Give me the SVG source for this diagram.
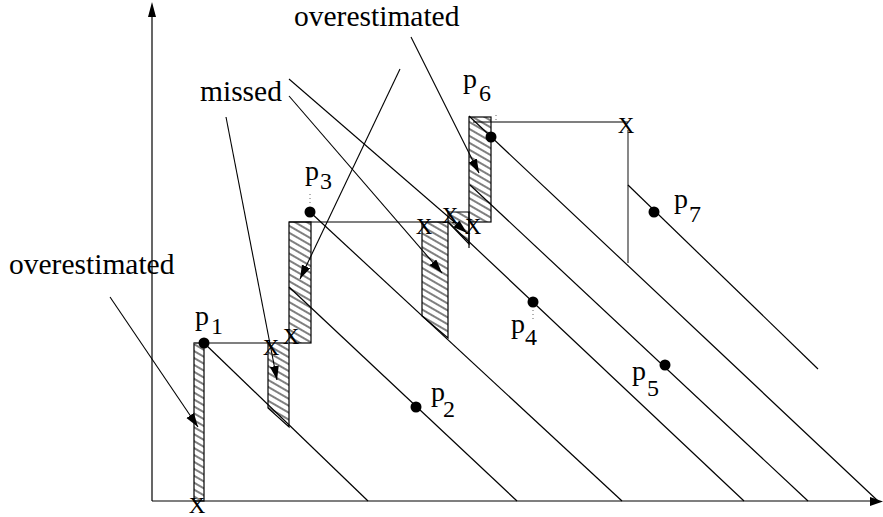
<svg xmlns="http://www.w3.org/2000/svg" width="883" height="517" viewBox="0 0 883 517">
<style>
.ln{stroke:#000;stroke-width:1.2;fill:none}
.gr{stroke:#555;stroke-width:1.4;fill:none}
.lead{stroke:#000;stroke-width:1.1;fill:none;marker-end:url(#ah)}
.hatch{fill:url(#hp);stroke:#000;stroke-width:1.2}
.dot{fill:#000}
.lbl{font-family:"Liberation Serif","Times New Roman",serif;font-size:29.5px;fill:#000}
.pl{font-family:"Liberation Serif","Times New Roman",serif;font-size:28px;fill:#000}
.sub{font-size:24px}
.x{font-family:"Liberation Serif","Times New Roman",serif;font-size:23px;fill:#000;text-anchor:middle}
.tick{stroke:#666;stroke-width:1;stroke-dasharray:1 3}
</style>
<defs>
<pattern id="hp" patternUnits="userSpaceOnUse" width="8" height="6" patternTransform="rotate(30)">
<line x1="0" y1="3" x2="8" y2="3" stroke="#000" stroke-width="1"/>
</pattern>
<marker id="ah" markerUnits="userSpaceOnUse" markerWidth="16" markerHeight="10" refX="14" refY="4.5" orient="auto">
<path d="M0,0 L14,4.5 L0,9 Z" fill="#000"/>
</marker>
</defs>
<g id="axes">
<line class="ln" x1="152" y1="501" x2="152" y2="14"/>
<path d="M148,17 L152,2 L156,17 Z" fill="#000"/>
<line class="ln" x1="152" y1="501" x2="871" y2="501"/>
<path d="M870,497 L883,501.5 L870,506 Z" fill="#000"/>
</g>
<g id="hatches">
<rect class="hatch" x="194" y="343" width="10" height="158"/>
<polygon class="hatch" points="268,343 289,343 289,427 268,408"/>
<rect class="hatch" x="289" y="222" width="22" height="121"/>
<polygon class="hatch" points="422,222 448,222 448,338 422,316"/>
<polygon class="hatch" points="448,212 469,212 469,244 448,222"/>
<rect class="hatch" x="469" y="117" width="22" height="105"/>
<line class="ln" x1="469" y1="222" x2="469" y2="248"/>
</g>
<g id="connectors">
<line class="gr" x1="194" y1="343" x2="289" y2="343"/>
<line class="ln" x1="289" y1="222" x2="448" y2="222"/>
<line class="ln" x1="473" y1="122" x2="628" y2="122"/>
<line class="gr" x1="628" y1="130" x2="628" y2="263"/>
<line class="ln" x1="204" y1="343" x2="368" y2="501"/>
<line class="ln" x1="289" y1="287" x2="517" y2="501"/>
<line class="ln" x1="310" y1="212" x2="622" y2="501"/>
<line class="ln" x1="448" y1="222" x2="744" y2="501"/>
<line class="ln" x1="470" y1="185" x2="808" y2="501"/>
<line class="ln" x1="469" y1="116" x2="878" y2="501"/>
<line class="ln" x1="628" y1="185" x2="818" y2="369"/>
<line class="tick" x1="310" y1="194" x2="310" y2="205"/>
<line class="tick" x1="533" y1="306" x2="533" y2="320"/>
<line class="tick" x1="496" y1="115" x2="496" y2="122"/>
<line class="lead" x1="110" y1="297" x2="198" y2="427"/>
<line class="lead" x1="226" y1="117" x2="277" y2="380"/>
<line class="lead" x1="289" y1="96" x2="442" y2="273"/>
<line class="lead" x1="289" y1="79" x2="467" y2="233"/>
<line class="lead" x1="400" y1="69" x2="300" y2="279"/>
<line class="lead" x1="411" y1="37" x2="479" y2="173"/>
</g>
<g id="xmarks">
<text class="x" x="197" y="513">X</text>
<text class="x" x="271" y="355">X</text>
<text class="x" x="291" y="344">X</text>
<text class="x" x="424" y="234">X</text>
<text class="x" x="450" y="223">X</text>
<text class="x" x="473" y="234">X</text>
<text class="x" x="626" y="133">X</text>
</g>
<g id="p1"><circle class="dot" cx="204" cy="343" r="5.5"/><text class="pl" x="195" y="325">p<tspan class="sub" x="211" y="334">1</tspan></text></g>
<g id="p2"><circle class="dot" cx="416" cy="407" r="5.5"/><text class="pl" x="431" y="401">p<tspan class="sub" x="443" y="417">2</tspan></text></g>
<g id="p3"><circle class="dot" cx="310" cy="212" r="5.5"/><text class="pl" x="305" y="180">p<tspan class="sub" x="320" y="189">3</tspan></text></g>
<g id="p4"><circle class="dot" cx="533" cy="302" r="5.5"/><text class="pl" x="511" y="333">p<tspan class="sub" x="525" y="345">4</tspan></text></g>
<g id="p5"><circle class="dot" cx="665" cy="365" r="5.5"/><text class="pl" x="632" y="380">p<tspan class="sub" x="647" y="396">5</tspan></text></g>
<g id="p6"><circle class="dot" cx="491" cy="137" r="5.5"/><text class="pl" x="463" y="88">p<tspan class="sub" x="479" y="101">6</tspan></text></g>
<g id="p7"><circle class="dot" cx="654" cy="212" r="5.5"/><text class="pl" x="674" y="208">p<tspan class="sub" x="689" y="222">7</tspan></text></g>
<g id="labels">
<text class="lbl" x="9" y="274">overestimated</text>
<text class="lbl" x="294" y="26">overestimated</text>
<text class="lbl" x="200" y="101">missed</text>
</g>
</svg>
